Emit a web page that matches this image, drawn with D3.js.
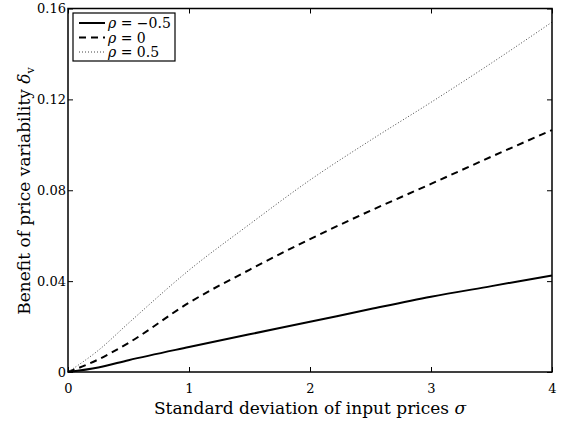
<!DOCTYPE html>
<html><head><meta charset="utf-8">
<script src="https://cdn.jsdelivr.net/npm/d3@7"></script>
<style>body{margin:0;background:#fff}svg{display:block}text{font-family:"DejaVu Serif",serif;fill:#000}</style>
</head><body>
<svg id="c" width="571" height="425"></svg>
<script>
const sigma = [0, 0.25, 0.5, 1, 1.5, 2, 2.5, 3, 3.5, 4];
const rhoNeg = [0, 0.002, 0.0052, 0.011, 0.0166, 0.0221, 0.0277, 0.0331, 0.0378, 0.0425];
const rhoZero = [0, 0.0055, 0.0128, 0.0305, 0.045, 0.0585, 0.071, 0.0828, 0.0948, 0.1065];
const rhoPos = [0, 0.0095, 0.0215, 0.0448, 0.065, 0.0845, 0.102, 0.1187, 0.136, 0.154];
const xTicks = [0, 1, 2, 3, 4];
const yTicks = [0, 0.04, 0.08, 0.12, 0.16];
const yTickLabels = ["0", "0.04", "0.08", "0.12", "0.16"];
const legendLabels = ["ρ = −0.5", "ρ = 0", "ρ = 0.5"];

const L = 68, R = 552, T = 8.5, B = 372;
const FONT = "DejaVu Serif";
const svg = d3.select("#c");
const x = d3.scaleLinear().domain([0, 4]).range([L, R]);
const y = d3.scaleLinear().domain([0, 0.16]).range([B, T]);

const ax = svg.append("g");
ax.append("g").attr("transform", `translate(0,${B})`)
  .call(d3.axisBottom(x).tickValues(xTicks).tickFormat(d3.format("d")).tickSize(-5).tickPadding(12))
  .call(g => { g.attr("font-family", FONT); g.select(".domain").remove(); g.selectAll("text").attr("font-size", 13); });
ax.append("g").attr("transform", `translate(0,${T})`)
  .call(d3.axisTop(x).tickValues(xTicks).tickFormat("").tickSize(-5))
  .call(g => g.select(".domain").remove());
ax.append("g").attr("transform", `translate(${L},0)`)
  .call(d3.axisLeft(y).tickValues(yTicks).tickFormat((d, i) => yTickLabels[i]).tickSize(-5).tickPadding(2))
  .call(g => { g.attr("font-family", FONT); g.select(".domain").remove(); g.selectAll("text").attr("font-size", 13); });
ax.append("g").attr("transform", `translate(${R},0)`)
  .call(d3.axisRight(y).tickValues(yTicks).tickFormat("").tickSize(-5))
  .call(g => g.select(".domain").remove());
svg.selectAll(".tick line").attr("stroke", "#000").attr("stroke-width", 1);

const line = d3.line().x((d, i) => x(sigma[i])).y(d => y(d)).curve(d3.curveMonotoneX);
const series = [
  {vals: rhoNeg, w: 2, dash: null, col: "#000"},
  {vals: rhoZero, w: 2, dash: "7,5", col: "#000"},
  {vals: rhoPos, w: 1, dash: "1,2", col: "#444"}
];
series.forEach(s => {
  svg.append("path").attr("d", line(s.vals)).attr("fill", "none")
    .attr("stroke", s.col).attr("stroke-width", s.w).attr("stroke-dasharray", s.dash);
});

svg.append("rect").attr("x", L).attr("y", T).attr("width", R - L).attr("height", B - T)
  .attr("fill", "none").attr("stroke", "#000").attr("stroke-width", 1.5);

const lg = svg.append("g");
lg.append("rect").attr("x", 73).attr("y", 13).attr("width", 102).attr("height", 48)
  .attr("fill", "#fff").attr("stroke", "#000").attr("stroke-width", 1.2);
series.forEach((s, i) => {
  const yy = 23 + i * 14.5;
  lg.append("line").attr("x1", 79).attr("x2", 105).attr("y1", yy).attr("y2", yy)
    .attr("stroke", s.col).attr("stroke-width", s.w).attr("stroke-dasharray", s.dash);
  lg.append("text").attr("x", 108).attr("y", yy + 5).attr("font-size", 14)
    .html(legendLabels[i].replace("ρ", "<tspan font-style='italic'>ρ</tspan>"));
});

svg.append("text").attr("x", 310).attr("y", 414).attr("text-anchor", "middle").attr("font-size", 17)
  .html("Standard deviation of input prices <tspan font-style='italic'>σ</tspan>");
svg.append("text").attr("transform", "translate(30,191) rotate(-90)").attr("text-anchor", "middle").attr("font-size", 17)
  .html("Benefit of price variability <tspan font-style='italic'>δ</tspan><tspan font-size='11' dy='4'>v</tspan>");
</script>
</body></html>
